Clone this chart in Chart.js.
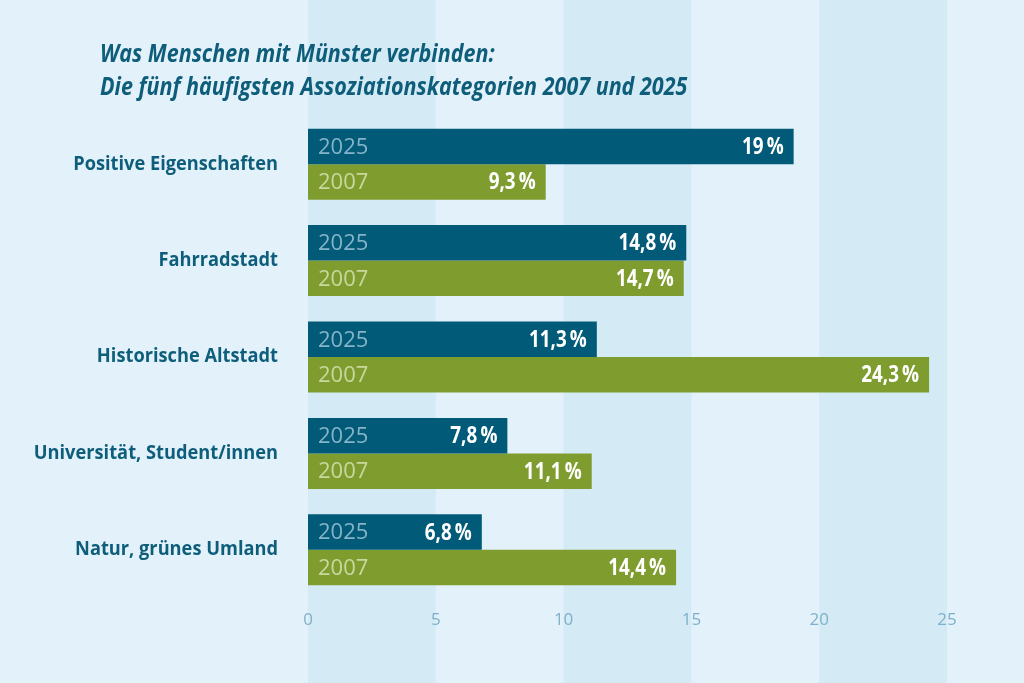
<!DOCTYPE html>
<html>
<head>
<meta charset="utf-8">
<script src="https://cdn.jsdelivr.net/npm/chart.js@4"></script>
<style>
  html, body { margin: 0; padding: 0; background: #e3f2fa; }
  #wrap { width: 1024px; height: 683px; }
</style>
</head>
<body>
<div id="wrap"><canvas id="chart" width="1024" height="683"></canvas></div>
<script>
const categories = ['Positive Eigenschaften', 'Fahrradstadt', 'Historische Altstadt', 'Universität, Student/innen', 'Natur, grünes Umland'];
const values2025 = [19, 14.8, 11.3, 7.8, 6.8];
const values2007 = [9.3, 14.7, 24.3, 11.1, 14.4];
const xTicks = [0, 5, 10, 15, 20, 25];
const titleLines = ['Was Menschen mit Münster verbinden:', 'Die fünf häufigsten Assoziationskategorien 2007 und 2025'];

const font = '"Open Sans", "DejaVu Sans Condensed", sans-serif';
const darkBlue = '#0e5e7b';

const seriesStyle = {
    '2025': { bar: '#005a78', year: '#86b3c6' },
    '2007': { bar: '#7f9c2e', year: '#c8d89e' }
};

function formatValue(v) {
    return String(v).replace('.', ',') + '\u2009%';
}

// the fallback font is wider than the original one, so squeeze it a bit
function squeezedText(ctx, text, x, y, squeeze) {
    const w = ctx.measureText(text).width;
    ctx.fillText(text, x, y, w * squeeze);
}

// light stripes behind every other 5-step interval, full height
const bandsPlugin = {
    id: 'bands',
    beforeDraw(chart) {
        const { ctx, scales: { x } } = chart;
        ctx.save();
        ctx.fillStyle = '#e3f2fa';
        ctx.fillRect(0, 0, chart.width, chart.height);
        ctx.fillStyle = '#d4ebf5';
        for (let i = 0; i < xTicks.length - 1; i += 2) {
            const x0 = x.getPixelForValue(xTicks[i]);
            const x1 = x.getPixelForValue(xTicks[i + 1]);
            ctx.fillRect(x0, 0, x1 - x0, chart.height);
        }
        ctx.restore();
    }
};

const textPlugin = {
    id: 'texts',
    afterDraw(chart) {
        const { ctx, scales: { y } } = chart;
        ctx.save();
        ctx.fillStyle = darkBlue;
        ctx.font = 'italic bold 25px ' + font;
        ctx.textAlign = 'left';
        ctx.textBaseline = 'alphabetic';
        titleLines.forEach((line, i) => squeezedText(ctx, line, 100, 62 + i * 33, 0.86));

        ctx.font = 'bold 19px ' + font;
        ctx.textAlign = 'right';
        ctx.textBaseline = 'middle';
        categories.forEach((c, i) => squeezedText(ctx, c, 278, y.getPixelForValue(i), 0.96));
        ctx.restore();
    }
};

const barLabelsPlugin = {
    id: 'barLabels',
    afterDatasetsDraw(chart) {
        const ctx = chart.ctx;
        ctx.save();
        ctx.textBaseline = 'middle';
        chart.data.datasets.forEach((ds, di) => {
            const meta = chart.getDatasetMeta(di);
            meta.data.forEach((bar, i) => {
                ctx.textAlign = 'left';
                ctx.font = '22px ' + font;
                ctx.fillStyle = seriesStyle[ds.label].year;
                ctx.fillText(ds.label, bar.base + 10, bar.y + 1);
                ctx.textAlign = 'right';
                ctx.font = 'bold 23px ' + font;
                ctx.fillStyle = '#ffffff';
                squeezedText(ctx, formatValue(ds.data[i]), bar.x - 10, bar.y + 1, 0.82);
            });
        });
        ctx.restore();
    }
};

new Chart(document.getElementById('chart'), {
    type: 'bar',
    data: {
        labels: categories,
        datasets: [
            { label: '2025', data: values2025, backgroundColor: seriesStyle['2025'].bar },
            { label: '2007', data: values2007, backgroundColor: seriesStyle['2007'].bar }
        ]
    },
    options: {
        indexAxis: 'y',
        responsive: false,
        animation: false,
        categoryPercentage: 0.736,
        barPercentage: 1,
        layout: { padding: { top: 116, right: 77, bottom: 0, left: 0 } },
        plugins: {
            legend: { display: false },
            tooltip: { enabled: false },
            title: { display: false }
        },
        scales: {
            x: {
                min: 0,
                max: 25,
                ticks: { stepSize: 5, padding: 12, color: '#7fb0c9', font: { family: font, size: 17 } },
                grid: { display: false, drawTicks: false },
                border: { display: false },
                afterFit(scale) { scale.height = 85; }
            },
            y: {
                ticks: { display: false },
                grid: { display: false, drawTicks: false },
                border: { display: false },
                afterFit(scale) { scale.width = 308; }
            }
        }
    },
    plugins: [bandsPlugin, textPlugin, barLabelsPlugin]
});
</script>
</body>
</html>
